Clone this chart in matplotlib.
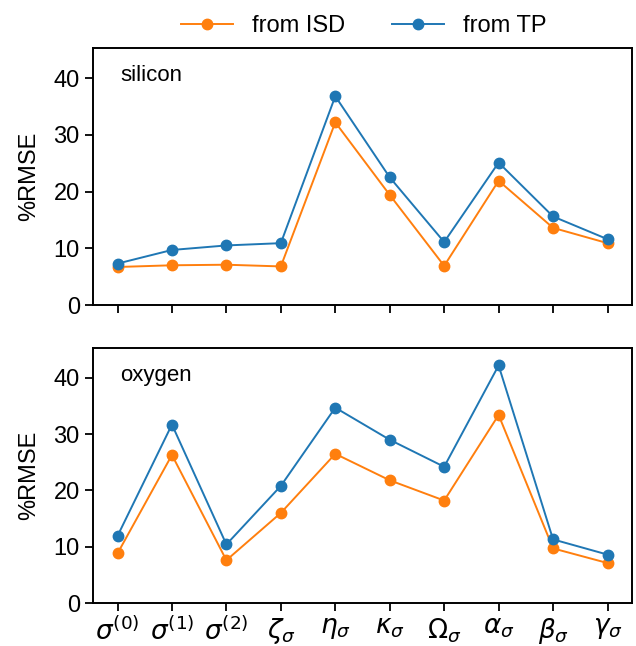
import matplotlib
matplotlib.use("Agg")
import matplotlib.pyplot as plt
import numpy as np

plt.rcParams['font.family'] = ['Liberation Sans', 'DejaVu Sans']
plt.rcParams['mathtext.fontset'] = 'dejavusans'

labels = [r'$\sigma^{(0)}$', r'$\sigma^{(1)}$', r'$\sigma^{(2)}$', r'$\zeta_\sigma$',
          r'$\eta_\sigma$', r'$\kappa_\sigma$', r'$\Omega_\sigma$', r'$\alpha_\sigma$',
          r'$\beta_\sigma$', r'$\gamma_\sigma$']

si_isd = [6.7, 7.0, 7.1, 6.8, 32.2, 19.4, 6.9, 21.9, 13.6, 10.9]
si_tp = [7.3, 9.7, 10.5, 10.9, 36.8, 22.5, 11.1, 25.1, 15.6, 11.6]
ox_isd = [8.8, 26.3, 7.6, 16.0, 26.5, 21.8, 18.2, 33.4, 9.7, 7.1]
ox_tp = [11.9, 31.7, 10.4, 20.8, 34.7, 29.0, 24.2, 42.2, 11.3, 8.6]

orange = '#ff7f0e'
blue = '#1f77b4'

fig = plt.figure(figsize=(6.36, 6.46), dpi=100)
ax1 = fig.add_axes([93/636, 1-305/646, 539/636, 257/646])
ax2 = fig.add_axes([93/636, 1-603/646, 539/636, 255/646])

x = np.arange(len(labels))
for ax, isd, tp, name in [(ax1, si_isd, si_tp, 'silicon'), (ax2, ox_isd, ox_tp, 'oxygen')]:
    ax.plot(x, isd, '-o', color=orange, lw=1.4, ms=7.5, label='from ISD')
    ax.plot(x, tp, '-o', color=blue, lw=1.4, ms=7.5, label='from TP')
    ax.set_ylim(0, 45.3)
    ax.set_yticks([0, 10, 20, 30, 40])
    ax.set_xticks(x)
    ax.set_ylabel('%RMSE', fontsize=17, labelpad=10)
    ax.tick_params(labelsize=17, length=6, width=1.3)
    for s in ax.spines.values():
        s.set_linewidth(1.4)
    ax.text(0.05, 0.935, name, transform=ax.transAxes, fontsize=16, va='top', ha='left')

ax1.set_xticklabels([])
ax2.set_xticklabels(labels, fontsize=19)

h, l = ax1.get_legend_handles_labels()
fig.legend(h, l, loc='upper center', bbox_to_anchor=(0.572, 1.01), ncol=2,
           frameon=False, fontsize=17, columnspacing=2.0, handlelength=2.2)

fig.savefig('out.png', dpi=100)
